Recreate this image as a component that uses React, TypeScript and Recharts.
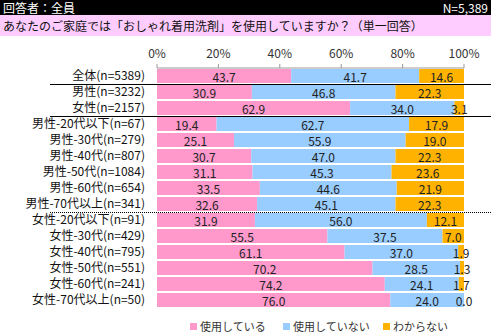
import React from 'react';
import { BarChart, Bar, XAxis, YAxis, LabelList } from 'recharts';

const categories = [
  '全体(n=5389)',
  '男性(n=3232)',
  '女性(n=2157)',
  '男性-20代以下(n=67)',
  '男性-30代(n=279)',
  '男性-40代(n=807)',
  '男性-50代(n=1084)',
  '男性-60代(n=654)',
  '男性-70代以上(n=341)',
  '女性-20代以下(n=91)',
  '女性-30代(n=429)',
  '女性-40代(n=795)',
  '女性-50代(n=551)',
  '女性-60代(n=241)',
  '女性-70代以上(n=50)',
];
const using = [43.7, 30.9, 62.9, 19.4, 25.1, 30.7, 31.1, 33.5, 32.6, 31.9, 55.5, 61.1, 70.2, 74.2, 76.0];
const notUsing = [41.7, 46.8, 34.0, 62.7, 55.9, 47.0, 45.3, 44.6, 45.1, 56.0, 37.5, 37.0, 28.5, 24.1, 24.0];
const unknown = [14.6, 22.3, 3.1, 17.9, 19.0, 22.3, 23.6, 21.9, 22.3, 12.1, 7.0, 1.9, 1.3, 1.7, 0.0];
const xTicks = [0, 20, 40, 60, 80, 100];

const SERIES = [
  { key: 'using', name: '使用している', color: '#FF99CC' },
  { key: 'notUsing', name: '使用していない', color: '#99CCFF' },
  { key: 'unknown', name: 'わからない', color: '#FFB300' },
];

const FONT = '"Noto Sans CJK JP", "Noto Sans", sans-serif';
const W = 491;
const H = 333;
const PLOT_TOP = 68;
const ROW = 16;

const data = categories.map((name, i) => ({
  name,
  using: using[i],
  notUsing: notUsing[i],
  unknown: unknown[i],
}));

const ValueLabel = (props: any) => {
  const { x, y, width, height, value } = props;
  if (value == null || x == null) return null;
  return (
    <text
      x={x + width / 2}
      y={y + height / 2}
      textAnchor="middle"
      dominantBaseline="central"
      fontSize={12}
      fontFamily={FONT}
      fill="#222"
    >
      {Number(value).toFixed(1)}
    </text>
  );
};

// separators between groups (row boundaries)
const separators = [
  { after: 1, dotted: false },
  { after: 3, dotted: false },
  { after: 9, dotted: true },
];

export default function App() {
  return (
    <div style={{ position: 'absolute', left: 0, top: 0, width: W, height: H, background: '#fff', fontFamily: FONT, overflow: 'hidden' }}>
      <div style={{ position: 'absolute', left: 0, top: 0, width: W, height: 15, background: '#000', color: '#fff', fontSize: 12, lineHeight: '15px' }}>
        <span style={{ position: 'absolute', left: 3, top: 0 }}>回答者：全員</span>
        <span style={{ position: 'absolute', right: 3, top: 0 }}>N=5,389</span>
      </div>
      <div style={{ position: 'absolute', left: 0, top: 15, width: W, height: 21, background: '#FFCCFF', color: '#111', fontSize: 12, lineHeight: '21px' }}>
        <span style={{ position: 'absolute', left: 3 }}>あなたのご家庭では「おしゃれ着用洗剤」を使用していますか？（単一回答）</span>
      </div>

      <div style={{ position: 'absolute', left: 0, top: 0 }}>
        <BarChart
          width={W}
          height={H}
          data={data}
          layout="vertical"
          barSize={14}
          margin={{ top: 40, right: 27, bottom: H - PLOT_TOP - ROW * categories.length, left: 0 }}
        >
          <XAxis
            type="number"
            orientation="top"
            domain={[0, 100]}
            ticks={xTicks}
            tickFormatter={(v) => `${v}%`}
            height={PLOT_TOP - 40}
            tickSize={4}
            tickMargin={6}
            stroke="#999"
            tick={{ fill: '#333', fontSize: 12, fontFamily: FONT }}
          />
          <YAxis
            type="category"
            dataKey="name"
            width={157}
            tickLine={false}
            axisLine={false}
            tickSize={0}
            tickMargin={12}
            interval={0}
            tick={{ fill: '#111', fontSize: 12, fontFamily: FONT }}
          />
          {SERIES.map((s) => (
            <Bar
              key={s.key}
              dataKey={s.key}
              name={s.name}
              stackId="a"
              fill={s.color}
              minPointSize={0.01}
              isAnimationActive={false}
            >
              <LabelList dataKey={s.key} content={<ValueLabel />} />
            </Bar>
          ))}
        </BarChart>
      </div>

      {separators.map((s, i) => (
        <div
          key={i}
          style={{
            position: 'absolute',
            left: 50,
            width: W - 50,
            top: PLOT_TOP + ROW * s.after - 0.5,
            height: 0,
            borderTop: s.dotted ? '1px dotted #000' : '1px solid #000',
          }}
        />
      ))}

      <div style={{ position: 'absolute', top: 319, left: 0, width: W, height: 14, fontSize: 11, color: '#333', lineHeight: '14px' }}>
        {SERIES.map((s, i) => (
          <span key={s.key} style={{ position: 'absolute', left: [190, 283, 383][i], display: 'flex', alignItems: 'center' }}>
            <span style={{ display: 'inline-block', width: 7, height: 7, background: s.color, marginRight: 3 }} />
            {s.name}
          </span>
        ))}
      </div>
    </div>
  );
}
